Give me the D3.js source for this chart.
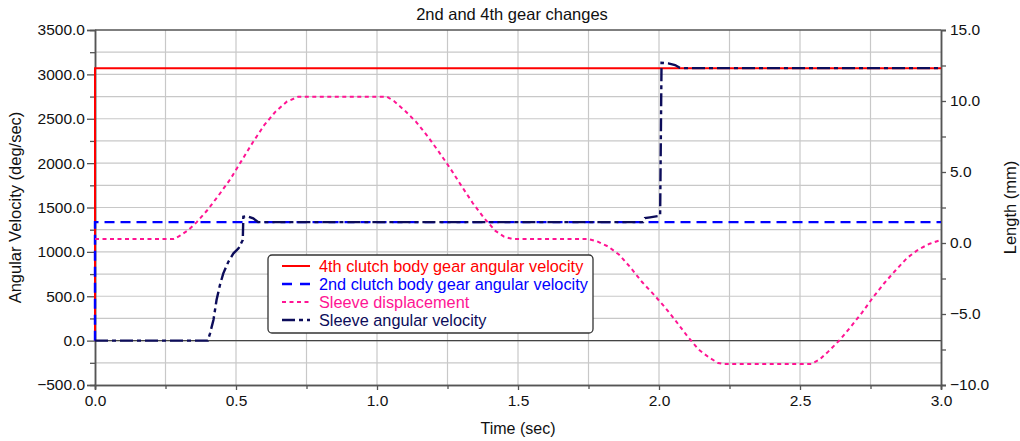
<!DOCTYPE html>
<html><head><meta charset="utf-8">
<script src="https://cdn.jsdelivr.net/npm/d3@7"></script>
<style>
body{margin:0;background:#fff;}
svg{display:block;font-family:"Liberation Sans",Arial,sans-serif;}
</style></head><body>
<svg id="c" width="1020" height="441"></svg>
<script>
const title = "2nd and 4th gear changes";
const xLabel = "Time (sec)";
const yLeftLabel = "Angular Velocity (deg/sec)";
const yRightLabel = "Length (mm)";
const seriesNames = ["4th clutch body gear angular velocity","2nd clutch body gear angular velocity","Sleeve displacement","Sleeve angular velocity"];
const seriesColors = ["#ff0000","#0000ff","#ff1493","#0c0c5a"];

const xTicks = [0,0.5,1.0,1.5,2.0,2.5,3.0];
const leftTicks = [-500,0,500,1000,1500,2000,2500,3000,3500];
const rightTicks = [-10,-5,0,5,10,15];

// [time, value]
const gear4 = [[0,0],[0,3070],[3.0,3070]];
const gear2 = [[0,0],[0,1335],[3.0,1335]];
const sleeveDisp = [[0,0.28],[0.28,0.28],[0.30,0.5],[0.33,0.9],[0.36,1.45],[0.40,2.35],[0.44,3.4],[0.48,4.5],[0.52,5.8],[0.56,7.1],[0.60,8.3],[0.64,9.25],[0.68,9.95],[0.72,10.3],
 [1.035,10.3],[1.06,10.0],[1.10,9.3],[1.14,8.5],[1.18,7.5],[1.22,6.4],[1.26,5.25],[1.30,4.0],[1.34,2.8],[1.38,1.75],[1.42,0.85],[1.45,0.45],[1.48,0.28],
 [1.75,0.28],[1.78,0.12],[1.82,-0.25],[1.86,-0.85],[1.90,-1.75],[1.94,-2.75],[1.98,-3.6],[2.02,-4.5],[2.06,-5.5],[2.10,-6.55],[2.14,-7.5],[2.18,-8.1],[2.21,-8.45],[2.23,-8.52],
 [2.54,-8.52],[2.57,-8.2],[2.60,-7.65],[2.64,-6.85],[2.68,-5.9],[2.72,-4.9],[2.76,-3.8],[2.80,-2.8],[2.84,-1.9],[2.88,-1.05],[2.92,-0.45],[2.96,-0.05],[3.0,0.22]];
const sleeveVel = [[0,0],[0.40,0],[0.408,82],[0.42,232],[0.431,457],[0.443,626],[0.455,758],[0.473,889],[0.491,984],[0.509,1040],[0.524,1133],[0.526,1396],[0.538,1404],[0.561,1378],[0.579,1335],
 [1.944,1335],[1.95,1380],[1.968,1389],[2.004,1407],[2.009,3131],[2.033,3124],[2.057,3105],[2.074,3075],[2.09,3070],[3.0,3070]];

const svg = d3.select("#c");
const L=95, R=941, T=30, B=385;
const x = d3.scaleLinear().domain([0,3]).range([L,R]);
const yL = d3.scaleLinear().domain([-500,3500]).range([B,T]);
const yR = d3.scaleLinear().domain([-10,15]).range([B,T]);

// grid
const g = svg.append("g");
g.selectAll(".vg").data(d3.range(1,12).map(i=>i*0.25)).enter().append("line")
 .attr("x1",d=>x(d)).attr("x2",d=>x(d)).attr("y1",T).attr("y2",B).attr("stroke","#c8c8c8").attr("stroke-width",1.2);
g.selectAll(".hg").data(d3.range(1,16).map(i=>-500+i*250)).enter().append("line")
 .attr("x1",L).attr("x2",R).attr("y1",d=>yL(d)).attr("y2",d=>yL(d)).attr("stroke","#c8c8c8").attr("stroke-width",1.2);
g.append("line").attr("x1",L).attr("x2",R).attr("y1",yL(0)).attr("y2",yL(0)).attr("stroke","#444").attr("stroke-width",1.3);
g.append("line").attr("x1",L).attr("x2",R).attr("y1",T).attr("y2",T).attr("stroke","#555").attr("stroke-width",1.3);

// axes
const fmt1 = d3.format(".1f");
const axL = svg.append("g").attr("transform",`translate(${L},0)`)
 .call(d3.axisLeft(yL).tickValues(leftTicks).tickFormat(fmt1).tickSize(8).tickPadding(2));
const axLm = svg.append("g").attr("transform",`translate(${L},0)`)
 .call(d3.axisLeft(yL).tickValues(d3.range(0,8).map(i=>-250+i*500)).tickFormat("").tickSize(5));
const axR = svg.append("g").attr("transform",`translate(${R},0)`)
 .call(d3.axisRight(yR).tickValues(rightTicks).tickFormat(fmt1).tickSize(5).tickPadding(4));
const axRm = svg.append("g").attr("transform",`translate(${R},0)`)
 .call(d3.axisRight(yR).tickValues([-7.5,-2.5,2.5,7.5,12.5]).tickFormat("").tickSize(5));
const axB = svg.append("g").attr("transform",`translate(0,${B})`)
 .call(d3.axisBottom(x).tickValues(xTicks).tickFormat(fmt1).tickSize(5).tickPadding(5));
const axBm = svg.append("g").attr("transform",`translate(0,${B})`)
 .call(d3.axisBottom(x).tickValues([0.25,0.75,1.25,1.75,2.25,2.75]).tickFormat("").tickSize(4));
[axL,axLm,axR,axRm,axB,axBm].forEach(a=>{
  a.select(".domain").attr("stroke","#555").attr("stroke-width",1.5);
  a.selectAll(".tick line").attr("stroke","#555").attr("stroke-width",1.3);
  a.selectAll("text").attr("fill","#111").style("font-size","15.5px").style("font-family",'"Liberation Sans",Arial,sans-serif');
});

// lines
const lineL = d3.line().x(d=>x(d[0])).y(d=>yL(d[1]));
const lineR = d3.line().x(d=>x(d[0])).y(d=>yR(d[1]));
const plot = svg.append("g");
plot.append("path").datum(gear4).attr("d",lineL).attr("fill","none").attr("stroke",seriesColors[0]).attr("stroke-width",2);
plot.append("path").datum(gear2).attr("d",lineL).attr("fill","none").attr("stroke",seriesColors[1]).attr("stroke-width",2.4).attr("stroke-dasharray","10,6");
plot.append("path").datum(sleeveDisp).attr("d",lineR).attr("fill","none").attr("stroke",seriesColors[2]).attr("stroke-width",2).attr("stroke-dasharray","4,3.5");
plot.append("path").datum(sleeveVel).attr("d",lineL).attr("fill","none").attr("stroke",seriesColors[3]).attr("stroke-width",2.4).attr("stroke-dasharray","13,4,4,4");

// texts
svg.append("text").attr("x",512).attr("y",20).attr("text-anchor","middle").style("font-size","16.5px").attr("fill","#111").text(title);
svg.append("text").attr("x",518).attr("y",434).attr("text-anchor","middle").style("font-size","16px").attr("fill","#111").text(xLabel);
svg.append("text").attr("transform",`translate(21,${(T+B)/2}) rotate(-90)`).attr("text-anchor","middle").style("font-size","16.5px").attr("fill","#111").text(yLeftLabel);
svg.append("text").attr("transform",`translate(1016,${(T+B)/2}) rotate(-90)`).attr("text-anchor","middle").style("font-size","16.5px").attr("fill","#111").text(yRightLabel);

// legend
const lg = svg.append("g").attr("transform","translate(268,255)");
lg.append("rect").attr("width",325).attr("height",78).attr("rx",4).attr("fill","#fff").attr("stroke","#333").attr("stroke-width",1.3);
const dashes = [null,"10,8","4,3.5","13,4,4,4"];
const widths = [2,2.4,2,2.4];
seriesNames.forEach((n,i)=>{
  const yy = 11 + i*18;
  lg.append("line").attr("x1",14).attr("x2",42).attr("y1",yy).attr("y2",yy).attr("stroke",seriesColors[i]).attr("stroke-width",widths[i]).attr("stroke-dasharray",dashes[i]);
  lg.append("text").attr("x",51).attr("y",yy+5.5).style("font-size","16.3px").attr("fill",seriesColors[i]).text(n);
});
</script>
</body></html>
